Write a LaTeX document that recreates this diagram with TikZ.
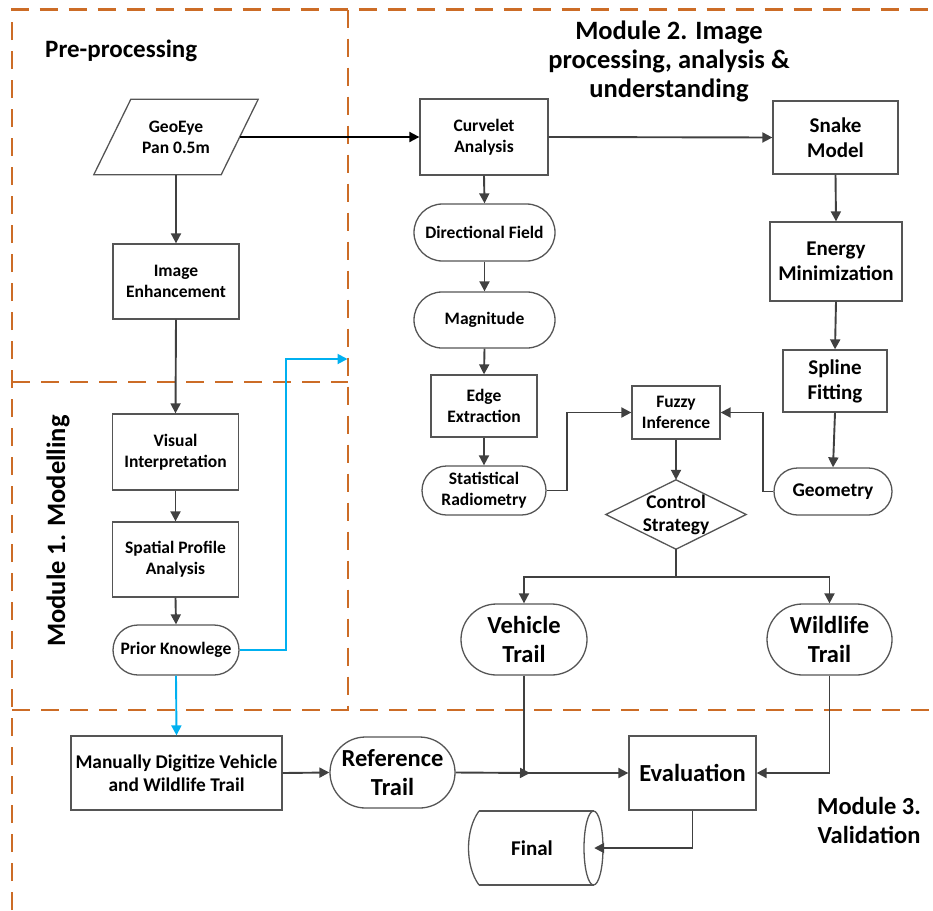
\documentclass[tikz,border=0pt]{standalone}
\usepackage{fontspec}
\setmainfont{Carlito}
\usetikzlibrary{arrows.meta,shapes.misc,calc}
\definecolor{dashor}{RGB}{204,108,38}
\definecolor{cyanb}{RGB}{0,176,240}
\definecolor{lin}{RGB}{64,64,64}
\definecolor{bord}{RGB}{85,85,85}
\newcommand{\fsz}[2]{\fontsize{#1}{#2}\selectfont\bfseries}
\begin{document}
\begin{tikzpicture}[x=1pt,y=-1pt,
  txt/.style={rectangle, inner sep=0pt, align=center, font=\fsz{17.5}{21}},
  box/.style={txt, draw=bord, line width=1.3pt},
  term/.style={box, rounded rectangle},
  fA/.style={font=\fsz{17.5}{21}},
  fB/.style={font=\fsz{19.4}{23}},
  fC/.style={font=\fsz{21}{25}},
  fD/.style={font=\fsz{24.5}{29}},
  arr/.style={draw=lin, line width=1.9pt, -{Triangle[length=10pt,width=10pt]}},
  barr/.style={draw=cyanb, line width=1.9pt, -{Triangle[length=10pt,width=10pt]}},
  karr/.style={draw=black, line width=1.9pt, -{Triangle[length=10pt,width=10pt]}},
  outl/.style={draw=bord, line width=1.3pt},
  zone/.style={draw=dashor, line width=2.4pt, dash pattern=on 18pt off 11pt},
]
\useasboundingbox (0,0) rectangle (933,910);

% zone borders
\draw[zone] (12,910) -- (12,9.5) -- (933,9.5);
\draw[zone] (348,9.5) -- (348,710);
\draw[zone] (12,382) -- (348,382);
\draw[zone] (12,710) -- (933,710);

% titles
\node[anchor=base west, inner sep=0pt, font=\fsz{25}{30}] (tpre) at (45,57) {Pre-processing};
\node[anchor=base, inner sep=0pt, font=\fsz{26.5}{30}] (tm2a) at (669,39.5) {Module 2. Image};
\node[anchor=base, inner sep=0pt, font=\fsz{26.5}{30}] (tm2b) at (669,68.5) {processing, analysis \&};
\node[anchor=base, inner sep=0pt, font=\fsz{26.5}{30}] (tm2c) at (669,97.5) {understanding};
\node[anchor=base, inner sep=0pt, rotate=90, font=\fsz{26.5}{30}] (tm1) at (65,531) {Module 1. Modelling};
\node[anchor=base, inner sep=0pt, font=\fsz{24.5}{29}] (tm3a) at (869,814) {Module 3.};
\node[anchor=base, inner sep=0pt, font=\fsz{24.5}{29}] (tm3b) at (869,843) {Validation};

% left column
\node[txt, minimum width=127pt, minimum height=75pt] (geo) at (176,137) {GeoEye\\Pan 0.5m};
\draw[outl] ([xshift=18.5pt]geo.north west) -- ([xshift=18.5pt]geo.north east)
  -- ([xshift=-18.5pt]geo.south east) -- ([xshift=-18.5pt]geo.south west) -- cycle;
\node[box, minimum width=126pt, minimum height=75pt] (ie) at (176,281.5) {Image\\Enhancement};
\node[box, minimum width=126pt, minimum height=76pt] (vi) at (175.5,452) {Visual\\Interpretation};
\node[box, minimum width=126pt, minimum height=75pt] (spa) at (175.5,559.5) {Spatial Profile\\Analysis};
\node[term, minimum width=126pt, minimum height=50pt] (pk) at (176,650) {Prior Knowlege};

% module 2
\node[box, minimum width=128pt, minimum height=76pt] (ca) at (484,137) {Curvelet\\Analysis};
\node[box, fC, minimum width=125pt, minimum height=73pt] (sm) at (835.5,137.5) {Snake\\Model};
\node[term, minimum width=141pt, minimum height=57pt] (df) at (484.5,232.5) {Directional Field};
\node[term, minimum width=141pt, minimum height=56pt] (mag) at (484.5,320) {Magnitude};
\node[box, minimum width=106pt, minimum height=62pt] (ee) at (484,406) {Edge\\Extraction};
\node[term, minimum width=124pt, minimum height=49pt] (sr) at (484,490.5) {Statistical\\Radiometry};
\node[box, minimum width=88pt, minimum height=53pt] (fi) at (676,412.5) {Fuzzy\\Inference};
\node[box, fC, minimum width=132pt, minimum height=79pt] (em) at (836,261.5) {Energy\\Minimization};
\node[box, fC, minimum width=104pt, minimum height=62pt] (sf) at (835,381) {Spline\\Fitting};
\node[term, fB, minimum width=118pt, minimum height=47pt] (geom) at (833,491.5) {Geometry};
\node[txt, fB, minimum width=140pt, minimum height=69pt] (cs) at (676,514.5) {Control\\Strategy};
\draw[outl] (cs.north) -- (cs.east) -- (cs.south) -- (cs.west) -- cycle;
\node[term, fD, minimum width=126pt, minimum height=71pt] (vt) at (524,639.5) {Vehicle\\Trail};
\node[term, fD, minimum width=125pt, minimum height=71pt] (wt) at (829.5,639.5) {Wildlife\\Trail};

% module 3
\node[box, fB, minimum width=211pt, minimum height=74pt] (md) at (176.5,773) {Manually Digitize Vehicle\\and Wildlife Trail};
\node[term, fD, minimum width=125pt, minimum height=71pt] (rt) at (392.5,772.5) {Reference\\Trail};
\node[box, fD, minimum width=127pt, minimum height=74pt] (ev) at (692.5,773) {Evaluation};
\node[txt, fC, minimum width=124pt, minimum height=74pt] (fin) at (532,848) {Final};
\draw[outl] (479,811) -- (593.5,811);
\draw[outl] (479,885) -- (593.5,885);
\draw[outl] (479,811) .. controls (465,830) and (465,866) .. (479,885);
\draw[outl] (593.5,848) ellipse [x radius=9.5pt, y radius=37pt];

% connectors
\coordinate (bend) at (347.5,359);
\coordinate (jn) at (530,773);
\draw[karr] (geo.east) -- (ca.west);
\draw[arr] (geo.south) -- (ie.north);
\draw[arr] (ie.south) -- (vi.north);
\draw[arr] (vi.south) -- (spa.north);
\draw[arr] (spa.south) -- (pk.north);
\draw[barr] (pk.east) -- ++(46,0) |- (bend);
\draw[barr] (pk.south) -- (md.north);

\draw[arr] (ca.east) -- (sm.west);
\draw[arr] (ca.south) -- (df.north);
\draw[arr] (df.south) -- (mag.north);
\draw[arr] (mag.south) -- (ee.north);
\draw[arr] (ee.south) -- (sr.north);
\draw[arr] (sr.east) -- ++(20,0) |- (fi.west);
\draw[arr] (geom.west) -- ++(-10,0) |- (fi.east);
\draw[arr] (sm.south) -- (em.north);
\draw[arr] (em.south) -- (sf.north);
\draw[arr] (sf.south) -- (geom.north);
\draw[arr] (fi.south) -- (cs.north);
\draw[arr] (cs.south) -- ++(0,28) -| (vt.north);
\draw[arr] (cs.south) -- ++(0,28) -| (wt.north);

\draw[arr] (md.east) -- (rt.west);
\draw[arr] (rt.east) -- (jn);
\draw[arr] (vt.south) |- (ev.west);
\draw[arr] (wt.south) |- (ev.east);
\draw[arr] (ev.south) |- (fin.east);
\end{tikzpicture}
\end{document}
